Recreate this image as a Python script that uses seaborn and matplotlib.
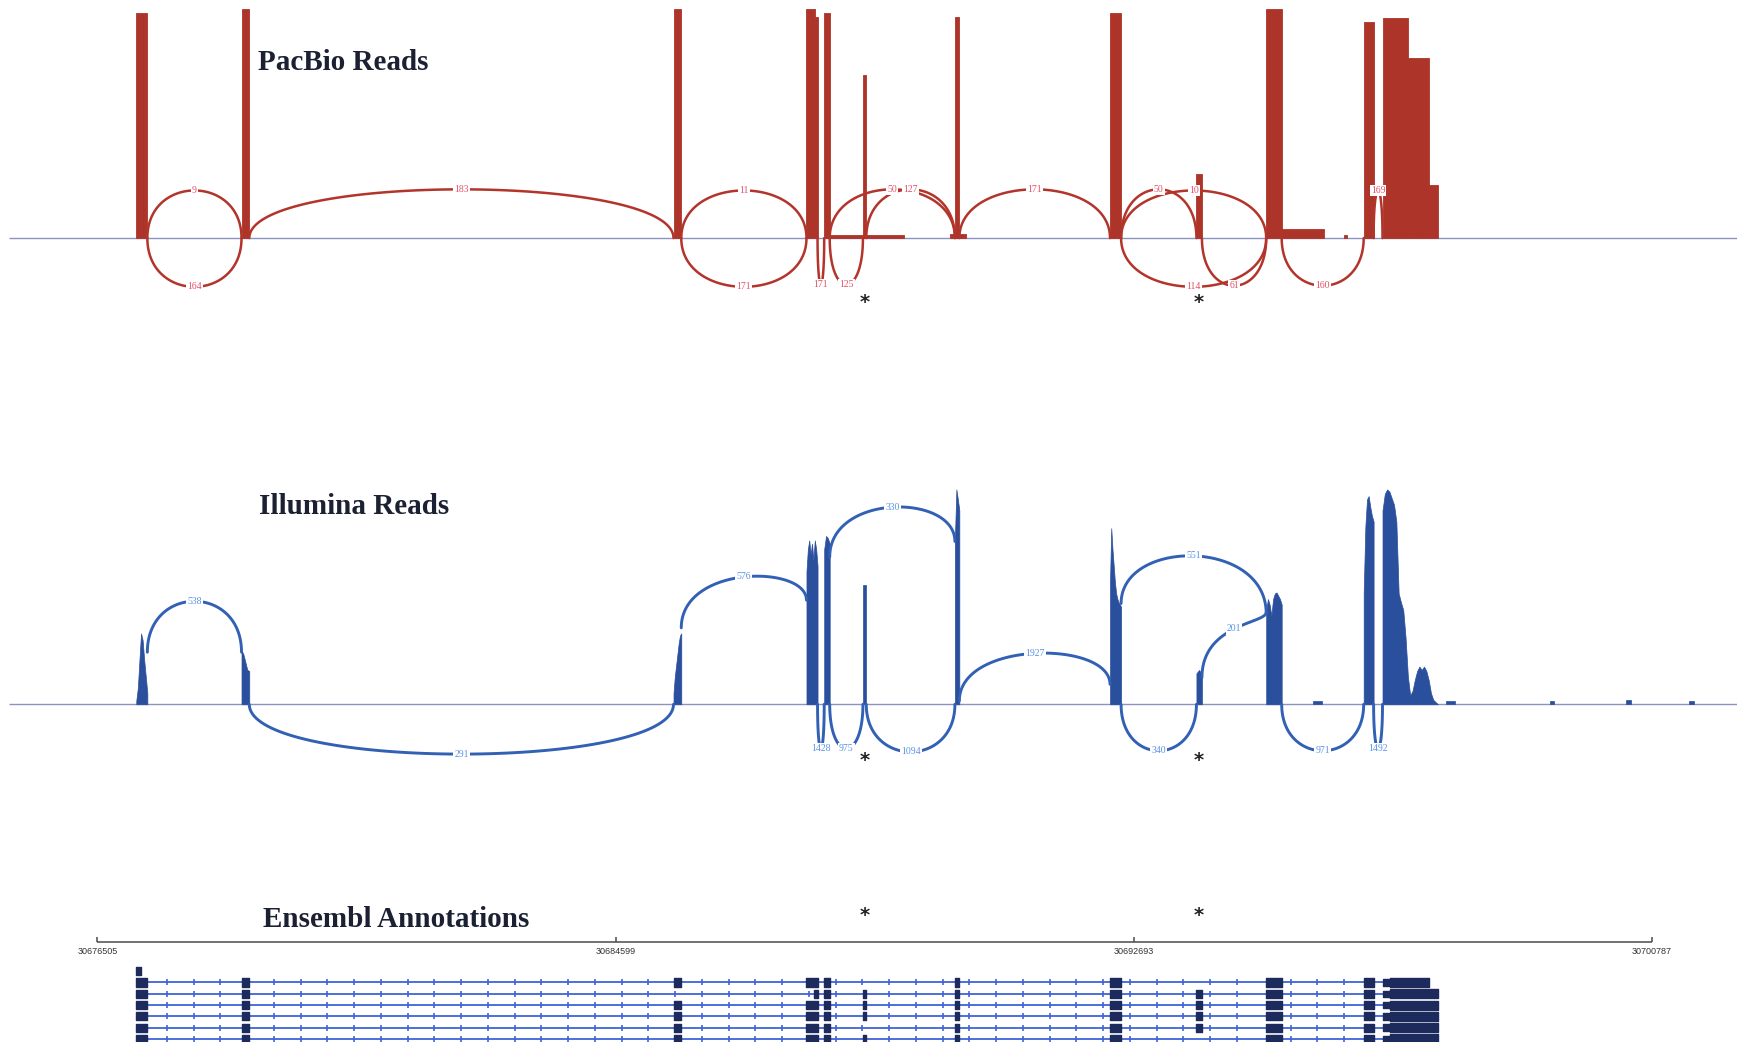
import numpy as np
import pandas as pd
import matplotlib
matplotlib.use("Agg")
import matplotlib.pyplot as plt
import seaborn as sns

# ------------------------------------------------------------------ data
exon_starts = [30677111, 30678755, 30685504, 30687581, 30687858, 30688463,
               30689900, 30692323, 30693673, 30694763, 30696286, 30696580]
exon_ends = [30677284, 30678876, 30685625, 30687754, 30687944, 30688515,
             30689969, 30692496, 30693759, 30695005, 30696441, 30697445]

axis_ticks = [30676505, 30684599, 30692693, 30700787]
starred_exons = [5, 8]

# PacBio coverage blocks
pacbio_cov_starts = [30687944, 30689831, 30695005, 30695974,
                     30677111, 30678755, 30685504, 30687581, 30687711, 30687858,
                     30688463, 30689900, 30692323, 30693673, 30694763, 30696286,
                     30696580, 30696978, 30697307]
pacbio_cov_ends = [30689104, 30690073, 30695663, 30696026,
                   30677284, 30678876, 30685625, 30687711, 30687754, 30687944,
                   30688515, 30689969, 30692496, 30693759, 30695005, 30696441,
                   30696978, 30697307, 30697445]
pacbio_cov_heights = [3, 4, 8, 3,
                      203, 207, 207, 207, 200, 203,
                      147, 200, 203, 58, 207, 195,
                      199, 163, 48]

# PacBio junctions (donor exon index -> acceptor exon index)
pacbio_junc_from = [0, 0, 1, 2, 2, 3, 4, 4, 5, 6, 7, 7, 7, 8, 9, 10]
pacbio_junc_to = [1, 1, 2, 3, 3, 4, 5, 6, 6, 7, 8, 9, 9, 9, 10, 11]
pacbio_counts = [9, 164, 183, 11, 171, 171, 125, 50, 127, 171, 50, 10, 114, 61, 160, 169]
pacbio_mid = [43, -44, 44, 43, -44, -42, -42, 44, 44, 44, 44, 43, -44, -43, -43, 43]

# Illumina coverage profiles (per exon, left to right)
illumina_profiles = [
    [3, 15, 40, 64, 58, 40, 25, 10],
    [49, 45, 38, 31, 30],
    [10, 25, 35, 45, 55, 62, 64],
    [120, 140, 148, 135, 145, 130, 148, 140, 125],
    [140, 152, 150, 145],
    [108, 108],
    [150, 194, 185, 175],
    [110, 159, 140, 125, 110, 100, 95, 92, 90, 88],
    [28, 31, 26],
    [85, 95, 90, 80, 95, 100, 101, 98, 95, 90],
    [100, 160, 185, 188, 178, 170, 165],
    [175, 190, 194, 192, 186, 180, 165, 100, 92, 85, 60, 25, 8, 12, 22, 30,
     34, 31, 34, 30, 22, 10, 4, 2, 0],
]
illumina_speck_starts = [30695490, 30697566, 30699193, 30700387, 30701374]
illumina_speck_ends = [30695628, 30697705, 30699262, 30700458, 30701445]
illumina_speck_heights = [3, 3, 2.5, 4, 3]

# Illumina junctions
ill_from = [0, 1, 2, 3, 4, 4, 5, 6, 7, 7, 8, 9, 10]
ill_to = [1, 2, 3, 4, 5, 6, 6, 7, 8, 9, 9, 10, 11]
ill_counts = [538, 291, 576, 1428, 975, 330, 1094, 1927, 340, 551, 201, 971, 1492]
ill_start_h = [47, 0, 69, 0, 0, 133, 0, 3, 0, 91, 24, 0, 0]
ill_end_h = [47, 0, 94, 0, 0, 147, 0, 18, 0, 82, 83, 0, 0]
ill_mid = [93, -45, 115, -40, -40, 178, -43, 46, -42, 134, 68, -42, -40]

# Ensembl annotation
annot_exon_names = ["E1", "E2", "E3", "E4", "E5", "E6", "E7", "E8", "E9",
                    "E10", "E11", "E12", "E1s", "E4s", "E12s"]
annot_exon_starts = exon_starts + [30677111, 30687700, 30696580]
annot_exon_ends = exon_ends + [30677180, 30687754, 30697307]
transcripts = [
    ["E1s"],
    ["E1", "E2", "E3", "E4", "E5", "E7", "E8", "E10", "E11", "E12s"],
    ["E1", "E2", "E4s", "E5", "E6", "E7", "E8", "E9", "E10", "E11", "E12"],
    ["E1", "E2", "E3", "E4", "E5", "E6", "E7", "E8", "E9", "E10", "E11", "E12"],
    ["E1", "E2", "E3", "E4", "E5", "E6", "E7", "E8", "E9", "E10", "E11", "E12"],
    ["E1", "E2", "E3", "E4", "E5", "E7", "E8", "E9", "E10", "E11", "E12"],
    ["E1", "E2", "E3", "E4", "E5", "E6", "E7", "E8", "E10", "E11", "E12"],
]

# ------------------------------------------------------------------ style
sns.set_theme(style="white")
plt.rcParams["font.family"] = ["Liberation Serif", "DejaVu Serif"]

X_LEFT, X_RIGHT = 30674982, 30702118
BASE_LEFT = 30675120
PB_COV, PB_ARC, PB_TXT = "#ad3428", "#b3342b", "#e2506b"
IL_COV, IL_ARC, IL_TXT = "#2a4f9c", "#3160b4", "#5a93e6"
BASE_COL = "#8b93bf"
TITLE_COL = "#1b2133"

fig = plt.figure(figsize=(17.37, 10.42), dpi=100)
ax_pb = fig.add_axes([0, 1 - 300 / 941, 1, 300 / 941])
ax_il = fig.add_axes([0, 1 - 720 / 941, 1, 300 / 941])
ax_an = fig.add_axes([0, 0, 1, 141 / 941])
for ax in (ax_pb, ax_il, ax_an):
    ax.set_xlim(X_LEFT, X_RIGHT)
    ax.set_axis_off()
    ax.patch.set_alpha(0)
ax_pb.set_ylim(-85, 215)
ax_il.set_ylim(-84, 216)
ax_an.set_ylim(6.27, -7.55)


def bezier_arcs(froms, tos, ys_list, ye_list, mids):
    rows, labels = [], []
    t = np.linspace(0, 1, 80)
    for j, (a, b, ys, ye, m) in enumerate(zip(froms, tos, ys_list, ye_list, mids)):
        x1, x2 = exon_ends[a], exon_starts[b]
        H = (8 * m - ys - ye) / 6.0
        x = (1 - t) ** 3 * x1 + 3 * (1 - t) ** 2 * t * x1 + 3 * (1 - t) * t ** 2 * x2 + t ** 3 * x2
        y = (1 - t) ** 3 * ys + 3 * (1 - t) ** 2 * t * H + 3 * (1 - t) * t ** 2 * H + t ** 3 * ye
        rows.append(pd.DataFrame({"x": x, "y": y, "jid": j}))
        labels.append(((x1 + x2) / 2, (ys + ye + 6 * H) / 8))
    return pd.concat(rows, ignore_index=True), labels


def draw_track(ax, df, labels, counts, arc_col, txt_col, lw):
    sns.lineplot(data=df, x="x", y="y", units="jid", estimator=None, sort=False,
                 color=arc_col, linewidth=lw, ax=ax, legend=False, zorder=3)
    for (lx, ly), c in zip(labels, counts):
        ax.text(lx, ly, str(c), ha="center", va="center", fontsize=7,
                color=txt_col, zorder=5,
                bbox=dict(boxstyle="square,pad=0.12", fc="white", ec="none"))
    ax.set_xlabel("")
    ax.set_ylabel("")
    ax.set_xlim(X_LEFT, X_RIGHT)


# ------------------------------------------------------------------ PacBio
ax_pb.hlines(0, BASE_LEFT, X_RIGHT, color=BASE_COL, lw=1.0, zorder=1)
for s, e, h in zip(pacbio_cov_starts, pacbio_cov_ends, pacbio_cov_heights):
    ax_pb.fill_between([s, e], [h, h], 0, color=PB_COV, lw=0.6, edgecolor=PB_COV, zorder=2)
pb_df, pb_labels = bezier_arcs(pacbio_junc_from, pacbio_junc_to,
                               [0] * len(pacbio_counts), [0] * len(pacbio_counts),
                               pacbio_mid)
draw_track(ax_pb, pb_df, pb_labels, pacbio_counts, PB_ARC, PB_TXT, 1.8)
ax_pb.set_ylim(-85, 215)
ax_pb.text(233 / 1568, 1 - 56 / 300, "PacBio Reads", transform=ax_pb.transAxes,
           ha="left", va="center", fontsize=21, fontweight="bold", color=TITLE_COL)

# ------------------------------------------------------------------ Illumina
ax_il.hlines(0, BASE_LEFT, X_RIGHT, color=BASE_COL, lw=1.0, zorder=1)
for s, e, prof in zip(exon_starts, exon_ends, illumina_profiles):
    xs = np.linspace(s, e, len(prof))
    ax_il.fill_between(xs, prof, 0, color=IL_COV, lw=0.5, edgecolor=IL_COV, zorder=2)
for s, e, h in zip(illumina_speck_starts, illumina_speck_ends, illumina_speck_heights):
    ax_il.fill_between([s, e], [h, h], 0, color=IL_COV, lw=0.5, edgecolor=IL_COV, zorder=2)
il_df, il_labels = bezier_arcs(ill_from, ill_to, ill_start_h, ill_end_h, ill_mid)
draw_track(ax_il, il_df, il_labels, ill_counts, IL_ARC, IL_TXT, 2.1)
ax_il.set_ylim(-84, 216)
ax_il.text(234 / 1568, (720 - 457) / 300, "Illumina Reads", transform=ax_il.transAxes,
           ha="left", va="center", fontsize=21, fontweight="bold", color=TITLE_COL)

# asterisks
for k in starred_exons:
    xc = (exon_starts[k] + exon_ends[k]) / 2
    ax_pb.text(xc, -58, "*", ha="center", va="center", fontsize=14,
               fontweight="bold", color="#222222", family="DejaVu Sans")
    ax_il.text(xc, -51, "*", ha="center", va="center", fontsize=14,
               fontweight="bold", color="#222222", family="DejaVu Sans")
    ax_an.text(xc, -4.9, "*", ha="center", va="center", fontsize=14,
               fontweight="bold", color="#222222", family="DejaVu Sans")

# ------------------------------------------------------------------ annotation
AX_Y = -2.55
ax_an.hlines(AX_Y, axis_ticks[0], axis_ticks[-1], color="#4a4a4a", lw=1.1)
ax_an.vlines(axis_ticks, AX_Y, AX_Y - 0.45, color="#4a4a4a", lw=1.1)
for tk in axis_ticks:
    ax_an.text(tk, -1.7, str(tk), ha="center", va="center", fontsize=6.5,
               color="#333333", family="Liberation Sans")
ax_an.text(237 / 1568, (941 - 830) / 141, "Ensembl Annotations", transform=ax_an.transAxes,
           ha="left", va="center", fontsize=21, fontweight="bold", color=TITLE_COL)

ex_lookup = dict(zip(annot_exon_names, zip(annot_exon_starts, annot_exon_ends)))
INTRON_COL = "#3f62d8"
EXON_COL = "#1d2a5c"
tick_grid = np.arange(30677587, 30697445, 418)
for row, tx in enumerate(transcripts):
    spans = [ex_lookup[n] for n in tx]
    t_start = min(s for s, _ in spans)
    t_end = max(e for _, e in spans)
    if len(spans) > 1:
        ax_an.hlines(row, t_start, t_end, color=INTRON_COL, lw=1.3, zorder=1)
        tks = [g for g in tick_grid if t_start < g < t_end and
               all(not (s - 60 <= g <= e + 60) for s, e in spans)]
        ax_an.plot(tks, [row] * len(tks), ls="none", marker="|", ms=4, mew=1.2,
                   color=INTRON_COL, zorder=2)
    for name, (s, e) in zip(tx, spans):
        if name in ("E12", "E12s"):
            lead = s + 121
            ax_an.broken_barh([(s, lead - s)], (row - 0.28, 0.56), color=EXON_COL, zorder=3)
            ax_an.broken_barh([(lead, e - lead)], (row - 0.4, 0.8), color=EXON_COL, zorder=3)
        else:
            w = max(e - s, 55)
            ax_an.broken_barh([(s, w)], (row - 0.36, 0.72), color=EXON_COL, zorder=3)
ax_an.set_ylim(6.27, -7.55)

fig.savefig("out.png", dpi=100)
